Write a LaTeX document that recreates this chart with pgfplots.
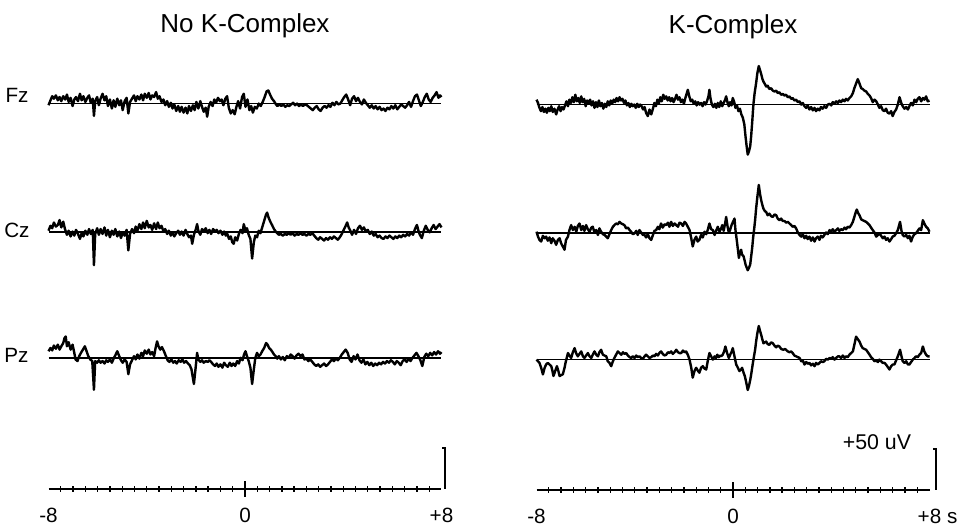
\documentclass[border=0pt]{standalone}
\usepackage{fontspec}
\setmainfont{Liberation Sans}
\usepackage{pgfplots}
\usepackage{pgfplotstable}
\pgfplotsset{compat=1.18}

% traces: time (s), amplitude (uV) relative to each channel's baseline
\pgfplotstableread[row sep=\\]{t v\\
-8.00 -2\\ -7.92 4\\ -7.85 9\\ -7.78 6\\ -7.70 10\\ -7.62 4\\ -7.55 8\\ -7.48 3\\ -7.40 9\\ -7.32 5\\
-7.25 11\\ -7.18 2\\ -7.10 7\\ -7.02 -3\\ -6.95 5\\ -6.88 8\\ -6.80 3\\ -6.72 12\\ -6.65 4\\ -6.58 9\\
-6.50 2\\ -6.42 7\\ -6.35 10\\ -6.28 1\\ -6.20 6\\ -6.15 -15\\ -6.10 3\\ -6.02 8\\ -5.95 -2\\ -5.88 6\\
-5.80 12\\ -5.72 4\\ -5.65 9\\ -5.58 -3\\ -5.50 5\\ -5.42 -6\\ -5.35 4\\ -5.28 -4\\ -5.20 6\\ -5.12 -2\\
-5.05 4\\ -4.98 -8\\ -4.90 3\\ -4.82 7\\ -4.75 -12\\ -4.68 2\\ -4.60 6\\ -4.52 10\\ -4.45 3\\ -4.38 9\\
-4.30 5\\ -4.22 11\\ -4.15 4\\ -4.08 12\\ -4.00 7\\ -3.92 13\\ -3.85 5\\ -3.78 10\\ -3.70 8\\ -3.62 14\\
-3.55 6\\ -3.48 9\\ -3.40 2\\ -3.32 5\\ -3.25 -2\\ -3.17 3\\ -3.10 -4\\ -3.02 1\\ -2.95 -6\\ -2.88 -1\\
-2.80 -9\\ -2.72 -3\\ -2.65 -10\\ -2.58 -4\\ -2.50 -11\\ -2.42 -5\\ -2.35 -12\\ -2.28 -3\\ -2.20 -9\\ -2.12 -2\\
-2.05 -8\\ -1.98 2\\ -1.90 -6\\ -1.82 3\\ -1.75 -4\\ -1.68 -10\\ -1.60 -5\\ -1.54 -16\\ -1.48 -4\\ -1.40 2\\
-1.32 -3\\ -1.25 5\\ -1.18 1\\ -1.10 7\\ -1.02 3\\ -0.95 5\\ -0.88 -2\\ -0.80 6\\ -0.73 9\\ -0.66 -5\\
-0.58 -12\\ -0.50 -8\\ -0.42 -13\\ -0.35 -4\\ -0.28 3\\ -0.20 -6\\ -0.12 8\\ -0.05 12\\ 0.02 -4\\ 0.10 5\\
0.18 -8\\ 0.25 -3\\ 0.32 -11\\ 0.40 -4\\ 0.48 -6\\ 0.56 0\\ 0.64 -3\\ 0.72 2\\ 0.80 8\\ 0.88 15\\
0.95 16\\ 1.02 11\\ 1.10 6\\ 1.18 3\\ 1.26 -1\\ 1.32 -3\\ 1.40 -1\\ 1.48 -3\\ 1.56 -1\\ 1.64 -4\\
1.72 -2\\ 1.80 -3\\ 1.88 -1\\ 1.96 1\\ 2.04 -2\\ 2.12 0\\ 2.20 -3\\ 2.28 -1\\ 2.36 -3\\ 2.44 -1\\
2.52 -2\\ 2.60 -4\\ 2.68 -6\\ 2.76 -8\\ 2.84 -5\\ 2.92 -3\\ 3.00 -7\\ 3.08 -9\\ 3.16 -5\\ 3.24 -3\\
3.32 -5\\ 3.40 -2\\ 3.48 -4\\ 3.56 1\\ 3.64 -2\\ 3.72 2\\ 3.80 -1\\ 3.88 0\\ 3.96 4\\ 4.04 8\\
4.12 11\\ 4.20 5\\ 4.28 -2\\ 4.36 6\\ 4.44 9\\ 4.52 3\\ 4.60 7\\ 4.68 2\\ 4.76 -1\\ 4.84 5\\
4.92 1\\ 5.00 -2\\ 5.08 -5\\ 5.16 -2\\ 5.24 -6\\ 5.32 -3\\ 5.40 -7\\ 5.48 -4\\ 5.56 -8\\ 5.64 -6\\
5.72 -9\\ 5.80 -5\\ 5.88 -7\\ 5.96 -3\\ 6.04 -6\\ 6.12 -2\\ 6.20 -7\\ 6.28 -4\\ 6.36 -1\\ 6.44 -3\\
6.52 -5\\ 6.60 -2\\ 6.68 2\\ 6.76 -4\\ 6.84 3\\ 6.92 9\\ 7.00 11\\ 7.08 4\\ 7.16 -3\\ 7.24 2\\
7.32 8\\ 7.40 12\\ 7.48 5\\ 7.56 2\\ 7.64 7\\ 7.72 10\\ 7.80 14\\ 7.88 7\\ 7.94 10\\ 8.00 8\\
}\fzL

\pgfplotstableread[row sep=\\]{t v\\
-8.00 2\\ -7.92 8\\ -7.85 5\\ -7.78 12\\ -7.70 7\\ -7.62 9\\ -7.55 15\\ -7.48 6\\ -7.40 13\\ -7.33 4\\
-7.25 -3\\ -7.18 2\\ -7.10 -5\\ -7.02 1\\ -6.95 -4\\ -6.88 3\\ -6.80 -2\\ -6.72 -8\\ -6.65 -1\\ -6.58 -5\\
-6.50 2\\ -6.42 -3\\ -6.35 4\\ -6.28 -2\\ -6.20 3\\ -6.15 -40\\ -6.10 -2\\ -6.02 5\\ -5.95 -3\\ -5.88 4\\
-5.80 -2\\ -5.72 6\\ -5.65 -4\\ -5.58 3\\ -5.50 -6\\ -5.42 2\\ -5.35 -3\\ -5.28 4\\ -5.20 -5\\ -5.12 1\\
-5.05 -7\\ -4.98 0\\ -4.90 -4\\ -4.82 3\\ -4.75 -22\\ -4.68 -2\\ -4.60 4\\ -4.52 -1\\ -4.45 7\\ -4.38 2\\
-4.30 10\\ -4.22 4\\ -4.15 12\\ -4.08 5\\ -4.00 14\\ -3.92 6\\ -3.85 9\\ -3.78 3\\ -3.70 11\\ -3.62 4\\
-3.55 12\\ -3.48 5\\ -3.40 8\\ -3.32 1\\ -3.25 4\\ -3.17 -2\\ -3.10 2\\ -3.02 -4\\ -2.95 0\\ -2.88 -5\\
-2.80 -1\\ -2.72 2\\ -2.65 -3\\ -2.58 1\\ -2.50 -4\\ -2.42 3\\ -2.35 -2\\ -2.28 -6\\ -2.20 -4\\ -2.15 -14\\
-2.08 -3\\ -2.00 4\\ -1.95 10\\ -1.90 2\\ -1.82 -3\\ -1.75 4\\ -1.68 1\\ -1.60 5\\ -1.52 -1\\ -1.45 3\\
-1.38 -2\\ -1.30 4\\ -1.22 1\\ -1.15 3\\ -1.08 -1\\ -1.00 2\\ -0.92 -3\\ -0.85 1\\ -0.78 -4\\ -0.72 -2\\
-0.65 -8\\ -0.58 -5\\ -0.52 -12\\ -0.46 -14\\ -0.40 -6\\ -0.32 -10\\ -0.25 -2\\ -0.18 3\\ -0.10 -1\\ -0.05 10\\
0.02 2\\ 0.08 5\\ 0.15 -3\\ 0.22 -8\\ 0.29 -32\\ 0.36 -12\\ 0.42 -4\\ 0.49 -6\\ 0.56 2\\ 0.63 -1\\
0.70 6\\ 0.78 14\\ 0.85 21\\ 0.90 24\\ 0.96 18\\ 1.03 13\\ 1.10 9\\ 1.18 4\\ 1.25 1\\ 1.31 -1\\
1.38 -3\\ 1.46 -2\\ 1.54 -4\\ 1.62 -2\\ 1.70 -3\\ 1.78 -1\\ 1.86 -3\\ 1.94 -1\\ 2.02 -4\\ 2.10 -2\\
2.18 -3\\ 2.26 -1\\ 2.34 -3\\ 2.42 -2\\ 2.50 -4\\ 2.58 -2\\ 2.66 -3\\ 2.74 -1\\ 2.82 -4\\ 2.90 -7\\
2.98 -9\\ 3.06 -6\\ 3.14 -8\\ 3.22 -10\\ 3.30 -7\\ 3.38 -9\\ 3.46 -6\\ 3.54 -8\\ 3.62 -5\\ 3.70 -7\\
3.78 -9\\ 3.86 -6\\ 3.94 -2\\ 4.02 3\\ 4.10 8\\ 4.16 12\\ 4.22 6\\ 4.29 2\\ 4.36 -3\\ 4.44 3\\
4.52 -2\\ 4.60 5\\ 4.68 8\\ 4.76 3\\ 4.84 6\\ 4.92 1\\ 5.00 3\\ 5.08 -2\\ 5.16 1\\ 5.24 -4\\
5.32 -2\\ 5.40 -6\\ 5.48 -4\\ 5.56 -7\\ 5.64 -8\\ 5.72 -5\\ 5.80 -7\\ 5.88 -4\\ 5.96 -6\\ 6.04 -8\\
6.12 -5\\ 6.20 -7\\ 6.28 -4\\ 6.36 -6\\ 6.44 -3\\ 6.52 -5\\ 6.60 -2\\ 6.68 -4\\ 6.76 0\\ 6.84 -3\\
6.92 4\\ 7.00 9\\ 7.06 2\\ 7.12 -3\\ 7.20 -7\\ 7.28 2\\ 7.36 8\\ 7.44 3\\ 7.52 0\\ 7.60 5\\
7.68 9\\ 7.76 4\\ 7.84 7\\ 7.92 10\\ 8.00 6\\
}\czL

\pgfplotstableread[row sep=\\]{t v\\
-8.00 8\\ -7.92 12\\ -7.85 9\\ -7.78 15\\ -7.70 11\\ -7.62 16\\ -7.55 10\\ -7.48 14\\ -7.40 18\\ -7.35 24\\
-7.30 26\\ -7.25 14\\ -7.18 19\\ -7.10 10\\ -7.02 16\\ -6.95 6\\ -6.90 -2\\ -6.82 -4\\ -6.75 2\\ -6.68 6\\
-6.60 10\\ -6.52 14\\ -6.45 8\\ -6.38 2\\ -6.30 -2\\ -6.22 -4\\ -6.15 -39\\ -6.10 -4\\ -6.02 -6\\ -5.95 -3\\
-5.88 -6\\ -5.80 -4\\ -5.72 -7\\ -5.65 -3\\ -5.58 -5\\ -5.50 -2\\ -5.42 -6\\ -5.35 -1\\ -5.28 3\\ -5.20 8\\
-5.12 2\\ -5.05 -3\\ -4.98 -6\\ -4.90 -2\\ -4.82 -5\\ -4.75 -20\\ -4.68 -8\\ -4.60 -3\\ -4.52 2\\ -4.45 -2\\
-4.38 4\\ -4.30 -1\\ -4.22 6\\ -4.15 2\\ -4.08 9\\ -4.00 5\\ -3.92 10\\ -3.85 4\\ -3.78 7\\ -3.70 2\\
-3.64 12\\ -3.58 20\\ -3.52 14\\ -3.45 10\\ -3.38 13\\ -3.30 8\\ -3.22 2\\ -3.15 -3\\ -3.08 -5\\ -3.00 -2\\
-2.92 -6\\ -2.85 -4\\ -2.78 -7\\ -2.70 -3\\ -2.62 -5\\ -2.55 -2\\ -2.48 -6\\ -2.40 -4\\ -2.32 -7\\ -2.25 -9\\
-2.18 -14\\ -2.12 -25\\ -2.08 -32\\ -2.02 -15\\ -1.95 6\\ -1.90 -2\\ -1.82 -5\\ -1.75 -3\\ -1.68 -6\\ -1.60 -4\\
-1.52 -5\\ -1.45 -3\\ -1.38 -5\\ -1.30 -8\\ -1.22 -10\\ -1.15 -7\\ -1.08 -11\\ -1.00 -8\\ -0.92 -12\\ -0.85 -6\\
-0.78 -9\\ -0.70 -11\\ -0.62 -6\\ -0.55 -10\\ -0.48 -7\\ -0.40 -10\\ -0.32 -4\\ -0.25 -7\\ -0.18 0\\ -0.10 -3\\
-0.04 4\\ 0.02 8\\ 0.08 2\\ 0.15 -4\\ 0.22 -12\\ 0.29 -32\\ 0.36 -14\\ 0.42 0\\ 0.49 6\\ 0.56 2\\
0.63 4\\ 0.70 8\\ 0.78 12\\ 0.86 18\\ 0.92 16\\ 0.98 12\\ 1.05 10\\ 1.12 7\\ 1.18 4\\ 1.25 2\\
1.31 -1\\ 1.38 2\\ 1.46 -2\\ 1.54 1\\ 1.62 -3\\ 1.70 2\\ 1.78 0\\ 1.86 4\\ 1.94 2\\ 2.02 -1\\
2.10 3\\ 2.18 5\\ 2.26 2\\ 2.34 4\\ 2.42 -2\\ 2.50 -1\\ 2.58 -4\\ 2.66 -2\\ 2.74 -5\\ 2.82 -8\\
2.90 -10\\ 2.98 -8\\ 3.06 -11\\ 3.14 -9\\ 3.22 -7\\ 3.30 -10\\ 3.38 -8\\ 3.46 -5\\ 3.54 -2\\ 3.62 -4\\
3.70 -1\\ 3.78 -3\\ 3.86 0\\ 3.94 4\\ 4.02 7\\ 4.10 10\\ 4.18 6\\ 4.26 -2\\ 4.34 -5\\ 4.42 2\\
4.50 -2\\ 4.58 4\\ 4.66 -3\\ 4.74 -6\\ 4.82 -2\\ 4.90 -8\\ 4.98 -5\\ 5.06 -9\\ 5.14 -6\\ 5.22 -10\\
5.30 -7\\ 5.38 -9\\ 5.46 -6\\ 5.54 -8\\ 5.62 -5\\ 5.70 -7\\ 5.78 -4\\ 5.86 -6\\ 5.94 -3\\ 6.02 -5\\
6.10 -8\\ 6.18 -4\\ 6.26 -6\\ 6.34 -9\\ 6.42 -4\\ 6.50 -2\\ 6.58 -5\\ 6.66 -1\\ 6.74 -4\\ 6.82 0\\
6.90 3\\ 6.98 6\\ 7.06 2\\ 7.14 -3\\ 7.22 -10\\ 7.30 1\\ 7.38 5\\ 7.46 2\\ 7.54 6\\ 7.62 3\\
7.70 7\\ 7.78 4\\ 7.86 8\\ 7.94 5\\ 8.00 7\\
}\pzL

\pgfplotstableread[row sep=\\]{t v\\
-8.00 6\\ -7.94 2\\ -7.88 -4\\ -7.82 -8\\ -7.76 -3\\ -7.70 -9\\ -7.64 -5\\ -7.58 -10\\ -7.52 -4\\ -7.46 -8\\
-7.40 -2\\ -7.34 -9\\ -7.27 -5\\ -7.20 -12\\ -7.14 -6\\ -7.08 -2\\ -7.02 -8\\ -6.96 -3\\ -6.90 -6\\ -6.84 -1\\
-6.78 4\\ -6.72 -2\\ -6.66 6\\ -6.60 2\\ -6.54 9\\ -6.48 3\\ -6.42 12\\ -6.36 4\\ -6.30 8\\ -6.24 2\\
-6.18 10\\ -6.12 3\\ -6.06 7\\ -6.00 -2\\ -5.94 5\\ -5.88 1\\ -5.82 6\\ -5.76 -1\\ -5.70 4\\ -5.64 -4\\
-5.58 3\\ -5.52 -3\\ -5.46 5\\ -5.40 -2\\ -5.34 2\\ -5.28 -5\\ -5.22 1\\ -5.16 -3\\ -5.10 4\\ -5.04 -1\\
-4.98 5\\ -4.92 1\\ -4.86 6\\ -4.80 3\\ -4.74 8\\ -4.68 4\\ -4.62 9\\ -4.56 5\\ -4.50 7\\ -4.44 2\\
-4.38 5\\ -4.32 -1\\ -4.26 2\\ -4.20 -3\\ -4.14 1\\ -4.08 -2\\ -4.02 0\\ -3.96 -4\\ -3.90 1\\ -3.84 -3\\
-3.78 0\\ -3.72 -2\\ -3.66 -6\\ -3.60 -3\\ -3.54 -10\\ -3.47 -14\\ -3.40 -6\\ -3.33 -12\\ -3.26 -5\\ -3.20 2\\
-3.14 -2\\ -3.08 6\\ -3.02 1\\ -2.96 9\\ -2.90 4\\ -2.84 12\\ -2.78 7\\ -2.72 10\\ -2.66 5\\ -2.60 9\\
-2.54 4\\ -2.48 8\\ -2.42 3\\ -2.36 7\\ -2.30 12\\ -2.24 6\\ -2.18 9\\ -2.12 3\\ -2.06 6\\ -2.00 1\\
-1.94 8\\ -1.88 14\\ -1.84 18\\ -1.78 10\\ -1.72 4\\ -1.66 6\\ -1.60 1\\ -1.54 4\\ -1.48 -1\\ -1.42 3\\
-1.36 0\\ -1.30 2\\ -1.24 -2\\ -1.18 3\\ -1.12 0\\ -1.06 4\\ -1.00 10\\ -0.96 18\\ -0.92 8\\ -0.86 0\\
-0.80 -3\\ -0.74 1\\ -0.68 -4\\ -0.62 2\\ -0.56 -3\\ -0.50 4\\ -0.44 -2\\ -0.38 2\\ -0.32 6\\ -0.28 10\\
-0.22 2\\ -0.17 -2\\ -0.12 3\\ -0.06 -1\\ -0.01 8\\ 0.05 3\\ 0.10 -4\\ 0.16 -1\\ 0.22 -8\\ 0.28 -5\\
0.34 -12\\ 0.40 -16\\ 0.46 -24\\ 0.51 -39\\ 0.56 -52\\ 0.60 -61\\ 0.65 -57\\ 0.70 -51\\ 0.74 -38\\ 0.78 -22\\
0.83 0\\ 0.88 14\\ 0.94 26\\ 0.99 38\\ 1.05 47\\ 1.10 42\\ 1.15 37\\ 1.20 31\\ 1.24 28\\ 1.30 25\\
1.35 22\\ 1.41 23\\ 1.48 19\\ 1.55 20\\ 1.62 17\\ 1.69 16\\ 1.76 17\\ 1.82 14\\ 1.89 15\\ 1.96 12\\
2.03 13\\ 2.09 11\\ 2.16 12\\ 2.23 9\\ 2.30 10\\ 2.37 7\\ 2.43 8\\ 2.50 5\\ 2.57 6\\ 2.64 3\\
2.71 4\\ 2.78 0\\ 2.84 2\\ 2.91 -2\\ 2.98 -4\\ 3.04 -1\\ 3.11 -6\\ 3.18 -3\\ 3.25 -7\\ 3.32 -4\\
3.38 -8\\ 3.45 -5\\ 3.52 -7\\ 3.58 -3\\ 3.65 -5\\ 3.72 -2\\ 3.79 -4\\ 3.86 0\\ 3.93 1\\ 4.00 -1\\
4.06 3\\ 4.13 1\\ 4.20 4\\ 4.27 2\\ 4.33 5\\ 4.40 3\\ 4.47 6\\ 4.54 4\\ 4.60 7\\ 4.67 5\\
4.74 8\\ 4.81 10\\ 4.88 14\\ 4.94 20\\ 4.99 24\\ 5.04 28\\ 5.08 31\\ 5.12 28\\ 5.17 24\\ 5.22 20\\
5.28 19\\ 5.35 17\\ 5.42 16\\ 5.49 13\\ 5.56 11\\ 5.62 8\\ 5.69 3\\ 5.76 6\\ 5.83 4\\ 5.90 0\\
5.96 -4\\ 6.03 -2\\ 6.10 -7\\ 6.17 -8\\ 6.23 -5\\ 6.30 -10\\ 6.37 -11\\ 6.44 -8\\ 6.50 -14\\ 6.57 -9\\
6.64 -6\\ 6.71 0\\ 6.78 9\\ 6.85 2\\ 6.91 -2\\ 6.98 -5\\ 7.05 -3\\ 7.12 -6\\ 7.18 -2\\ 7.25 2\\
7.32 -1\\ 7.39 6\\ 7.46 3\\ 7.52 7\\ 7.59 9\\ 7.66 4\\ 7.73 8\\ 7.79 6\\ 7.86 10\\ 7.93 4\\
8.00 5\\
}\fzR

\pgfplotstableread[row sep=\\]{t v\\
-8.00 2\\ -7.94 -4\\ -7.88 -8\\ -7.81 -10\\ -7.74 -3\\ -7.67 -6\\ -7.61 -4\\ -7.54 -9\\ -7.47 -5\\ -7.40 -12\\
-7.34 -6\\ -7.27 -9\\ -7.20 -14\\ -7.13 -8\\ -7.06 -6\\ -7.00 -12\\ -6.93 -16\\ -6.86 -20\\ -6.80 -8\\ -6.72 -4\\
-6.66 4\\ -6.59 10\\ -6.52 4\\ -6.45 8\\ -6.38 2\\ -6.32 9\\ -6.25 12\\ -6.18 4\\ -6.11 9\\ -6.05 3\\
-5.98 10\\ -5.91 5\\ -5.84 2\\ -5.77 7\\ -5.71 8\\ -5.64 1\\ -5.57 4\\ -5.50 -2\\ -5.44 6\\ -5.37 2\\
-5.30 -1\\ -5.23 -2\\ -5.16 -4\\ -5.10 -6\\ -5.03 -1\\ -4.96 4\\ -4.89 8\\ -4.83 10\\ -4.76 12\\ -4.69 11\\
-4.62 14\\ -4.55 12\\ -4.48 11\\ -4.42 10\\ -4.35 6\\ -4.28 7\\ -4.21 4\\ -4.15 2\\ -4.08 -1\\ -4.01 0\\
-3.94 3\\ -3.88 -2\\ -3.81 4\\ -3.74 1\\ -3.67 -2\\ -3.60 -2\\ -3.54 -5\\ -3.47 -1\\ -3.40 -6\\ -3.33 -8\\
-3.26 -2\\ -3.20 3\\ -3.13 4\\ -3.06 8\\ -3.00 5\\ -2.93 12\\ -2.86 7\\ -2.79 11\\ -2.72 10\\ -2.65 13\\
-2.59 8\\ -2.52 14\\ -2.45 9\\ -2.38 12\\ -2.31 10\\ -2.24 8\\ -2.18 13\\ -2.11 12\\ -2.04 9\\ -1.97 14\\
-1.91 12\\ -1.84 8\\ -1.77 4\\ -1.70 -6\\ -1.64 -16\\ -1.57 -8\\ -1.50 -4\\ -1.44 -10\\ -1.37 -8\\ -1.30 -2\\
-1.23 -5\\ -1.16 2\\ -1.09 -1\\ -1.03 4\\ -0.96 12\\ -0.89 5\\ -0.82 4\\ -0.75 -2\\ -0.69 3\\ -0.62 8\\
-0.55 2\\ -0.48 6\\ -0.44 10\\ -0.38 3\\ -0.31 14\\ -0.28 20\\ -0.22 8\\ -0.17 1\\ -0.12 4\\ -0.06 10\\
0.00 14\\ 0.06 18\\ 0.10 4\\ 0.16 -10\\ 0.20 -20\\ 0.24 -30\\ 0.28 -24\\ 0.33 -20\\ 0.37 -26\\ 0.43 -28\\
0.48 -34\\ 0.51 -38\\ 0.56 -42\\ 0.60 -45\\ 0.65 -42\\ 0.70 -38\\ 0.74 -28\\ 0.78 -18\\ 0.82 -5\\ 0.86 5\\
0.90 16\\ 0.94 30\\ 0.99 44\\ 1.05 59\\ 1.10 48\\ 1.15 40\\ 1.20 34\\ 1.24 30\\ 1.30 27\\ 1.35 26\\
1.41 22\\ 1.48 24\\ 1.55 21\\ 1.62 20\\ 1.69 23\\ 1.76 22\\ 1.82 18\\ 1.89 16\\ 1.96 18\\ 2.03 15\\
2.10 15\\ 2.16 13\\ 2.23 14\\ 2.30 12\\ 2.37 10\\ 2.43 8\\ 2.50 9\\ 2.57 6\\ 2.64 1\\ 2.71 -2\\
2.78 -4\\ 2.84 -1\\ 2.91 -6\\ 2.98 -3\\ 3.04 -7\\ 3.11 -4\\ 3.18 -9\\ 3.25 -5\\ 3.32 -10\\ 3.38 -6\\
3.45 -4\\ 3.52 -8\\ 3.58 -3\\ 3.65 -5\\ 3.72 -2\\ 3.79 1\\ 3.86 -1\\ 3.93 4\\ 4.00 2\\ 4.06 5\\
4.13 2\\ 4.20 4\\ 4.27 6\\ 4.33 3\\ 4.40 5\\ 4.47 4\\ 4.54 7\\ 4.60 5\\ 4.67 8\\ 4.74 7\\
4.81 10\\ 4.88 14\\ 4.94 20\\ 5.00 26\\ 5.04 29\\ 5.09 25\\ 5.15 22\\ 5.22 17\\ 5.28 16\\ 5.35 15\\
5.42 14\\ 5.49 12\\ 5.56 10\\ 5.62 7\\ 5.69 4\\ 5.76 1\\ 5.83 -4\\ 5.90 -2\\ 5.96 0\\ 6.03 -3\\
6.10 -6\\ 6.17 -4\\ 6.23 -8\\ 6.30 -6\\ 6.37 -10\\ 6.44 -7\\ 6.50 -4\\ 6.57 -3\\ 6.64 0\\ 6.71 4\\
6.80 14\\ 6.86 3\\ 6.91 -2\\ 6.98 -4\\ 7.05 -2\\ 7.12 -6\\ 7.18 -3\\ 7.25 -10\\ 7.32 -4\\ 7.39 -1\\
7.45 0\\ 7.52 3\\ 7.59 6\\ 7.66 4\\ 7.73 16\\ 7.79 12\\ 7.86 8\\ 7.93 6\\ 8.00 2\\
}\czR

\pgfplotstableread[row sep=\\]{t v\\
-8.00 0\\ -7.94 -2\\ -7.88 -4\\ -7.81 -10\\ -7.74 -18\\ -7.67 -10\\ -7.61 -6\\ -7.54 -4\\ -7.47 -6\\ -7.40 -8\\
-7.35 -14\\ -7.31 -20\\ -7.24 -14\\ -7.17 -8\\ -7.11 -14\\ -7.06 -20\\ -7.00 -19\\ -6.93 -18\\ -6.86 -10\\ -6.82 -4\\
-6.77 2\\ -6.72 8\\ -6.66 5\\ -6.59 2\\ -6.52 9\\ -6.45 14\\ -6.39 8\\ -6.32 4\\ -6.25 7\\ -6.18 10\\
-6.11 4\\ -6.05 2\\ -5.98 5\\ -5.91 8\\ -5.84 4\\ -5.77 2\\ -5.71 6\\ -5.64 10\\ -5.57 6\\ -5.50 4\\
-5.44 9\\ -5.37 12\\ -5.30 6\\ -5.23 5\\ -5.16 4\\ -5.10 -2\\ -5.03 -4\\ -4.96 -8\\ -4.89 -2\\ -4.83 2\\
-4.76 6\\ -4.69 10\\ -4.62 8\\ -4.55 6\\ -4.48 9\\ -4.42 7\\ -4.35 8\\ -4.28 5\\ -4.21 3\\ -4.15 2\\
-4.08 4\\ -4.01 2\\ -3.94 5\\ -3.88 3\\ -3.81 4\\ -3.74 2\\ -3.67 1\\ -3.60 4\\ -3.54 6\\ -3.47 4\\
-3.40 2\\ -3.33 3\\ -3.26 5\\ -3.20 4\\ -3.13 7\\ -3.06 5\\ -3.00 8\\ -2.93 10\\ -2.86 7\\ -2.79 5\\
-2.72 6\\ -2.65 9\\ -2.59 8\\ -2.52 10\\ -2.45 7\\ -2.38 9\\ -2.31 12\\ -2.24 9\\ -2.18 8\\ -2.11 8\\
-2.04 11\\ -1.97 9\\ -1.91 10\\ -1.84 6\\ -1.77 0\\ -1.70 -10\\ -1.64 -22\\ -1.57 -14\\ -1.50 -10\\ -1.44 -13\\
-1.37 -16\\ -1.30 -10\\ -1.23 -8\\ -1.16 -11\\ -1.09 -12\\ -1.03 -2\\ -0.96 8\\ -0.89 4\\ -0.82 0\\ -0.75 4\\
-0.69 2\\ -0.64 6\\ -0.58 3\\ -0.52 5\\ -0.48 4\\ -0.42 6\\ -0.36 10\\ -0.31 16\\ -0.24 8\\ -0.17 2\\
-0.10 7\\ -0.05 10\\ -0.01 14\\ 0.06 4\\ 0.13 -6\\ 0.20 -10\\ 0.26 -14\\ 0.33 -12\\ 0.37 -10\\ 0.43 -16\\
0.48 -20\\ 0.54 -28\\ 0.60 -37\\ 0.65 -32\\ 0.70 -25\\ 0.74 -18\\ 0.78 -10\\ 0.82 -2\\ 0.86 5\\ 0.90 12\\
0.94 22\\ 0.99 32\\ 1.05 41\\ 1.10 35\\ 1.15 30\\ 1.20 24\\ 1.24 20\\ 1.30 21\\ 1.35 22\\ 1.41 19\\
1.48 18\\ 1.55 21\\ 1.62 20\\ 1.69 17\\ 1.76 15\\ 1.82 17\\ 1.89 16\\ 1.96 13\\ 2.05 12\\ 2.12 13\\
2.23 10\\ 2.30 9\\ 2.37 10\\ 2.43 8\\ 2.50 5\\ 2.57 4\\ 2.64 3\\ 2.71 2\\ 2.78 -2\\ 2.84 -1\\
2.91 -6\\ 2.98 -3\\ 3.04 -5\\ 3.11 -4\\ 3.18 -7\\ 3.25 -5\\ 3.32 -8\\ 3.38 -4\\ 3.45 -6\\ 3.52 -4\\
3.58 -2\\ 3.65 -3\\ 3.72 -2\\ 3.79 1\\ 3.86 0\\ 3.93 2\\ 4.00 1\\ 4.06 3\\ 4.13 0\\ 4.20 2\\
4.27 4\\ 4.33 4\\ 4.40 2\\ 4.47 5\\ 4.54 2\\ 4.60 4\\ 4.67 3\\ 4.74 6\\ 4.81 8\\ 4.88 10\\
4.94 18\\ 5.01 28\\ 5.08 25\\ 5.15 22\\ 5.22 17\\ 5.28 14\\ 5.35 13\\ 5.42 12\\ 5.49 9\\ 5.56 6\\
5.62 3\\ 5.69 1\\ 5.76 -2\\ 5.83 -1\\ 5.90 -3\\ 5.96 0\\ 6.03 -2\\ 6.10 -4\\ 6.17 -4\\ 6.23 -6\\
6.30 -9\\ 6.37 -12\\ 6.44 -8\\ 6.50 -6\\ 6.57 -6\\ 6.64 -1\\ 6.71 4\\ 6.80 12\\ 6.86 4\\ 6.91 -2\\
6.98 -4\\ 7.05 -2\\ 7.12 -6\\ 7.18 -6\\ 7.25 -3\\ 7.32 0\\ 7.39 2\\ 7.45 4\\ 7.52 3\\ 7.59 6\\
7.66 8\\ 7.73 16\\ 7.79 10\\ 7.86 6\\ 7.93 4\\ 8.00 4\\
}\pzR

\pgfplotsset{
  eeg/.style={
    x=18.42pt, y=0.615pt,
    xmin=-8, xmax=8, ymin=0, ymax=560,
    anchor=origin, clip=false,
    axis x line=bottom, axis y line=none,
    x axis line style={-, line width=1.4pt},
    xtick={-8,0,8},
    major tick length=0pt,
    minor xtick={-7.5,-7,...,7.5},
    minor tick length=4.5pt,
    tick align=center,
    every tick/.style={black, line width=1pt},
    extra x ticks={0}, extra x tick labels={},
    extra x tick style={major tick length=11.5pt, every tick/.style={black, line width=1.4pt}},
    xticklabel style={font=\fontsize{15.5}{16}\selectfont, anchor=base, yshift=-25pt},
  },
  trace/.style={black, line width=1.8pt, line join=round, mark=none},
  base/.style={black, line width=1.3pt, mark=none},
}

\begin{document}
\begin{tikzpicture}
\path[use as bounding box] (0,0) rectangle (721.5pt,397.5pt);

% left panel: no K-complex
\begin{axis}[eeg, at={(183.75pt,30.75pt)}, xticklabels={-8,0,+8}]
\addplot[base] coordinates {(-8,470) (8,470)};
\addplot[base] coordinates {(-8,313) (8,313)};
\addplot[base] coordinates {(-8,160) (8,160)};
\addplot[trace] table[x=t, y expr=\thisrow{v}+470] {\fzL};
\addplot[trace] table[x=t, y expr=\thisrow{v}+313] {\czL};
\addplot[trace] table[x=t, y expr=\thisrow{v}+160] {\pzL};
\addplot[black, line width=1.4pt, mark=none] coordinates {(8.04,50) (8.16,50) (8.16,0)};
\node[anchor=base, font=\fontsize{19.5}{22}\selectfont] at (axis cs:0,557) {No K-Complex};
\node[anchor=base east, font=\fontsize{15.5}{18}\selectfont] at (axis cs:-8.62,471) {Fz};
\node[anchor=base east, font=\fontsize{15.5}{18}\selectfont] at (axis cs:-8.58,307) {Cz};
\node[anchor=base east, font=\fontsize{15.5}{18}\selectfont] at (axis cs:-8.62,154) {Pz};
\end{axis}

% right panel: K-complex
\begin{axis}[eeg, at={(549.75pt,30pt)}, xticklabels={-8,0,+8\rlap{ s}}]
\addplot[base] coordinates {(-8,470) (8,470)};
\addplot[base] coordinates {(-8,313) (8,313)};
\addplot[base] coordinates {(-8,159) (8,159)};
\addplot[trace] table[x=t, y expr=\thisrow{v}+470] {\fzR};
\addplot[trace] table[x=t, y expr=\thisrow{v}+313] {\czR};
\addplot[trace] table[x=t, y expr=\thisrow{v}+159] {\pzR};
\addplot[black, line width=1.4pt, mark=none] coordinates {(8.16,50) (8.28,50) (8.28,0)};
\node[anchor=base, font=\fontsize{19.5}{22}\selectfont] at (axis cs:0,557) {K-Complex};
\node[anchor=base, font=\fontsize{16}{18}\selectfont] at (axis cs:5.86,49) {+50 uV};
\end{axis}
\end{tikzpicture}
\end{document}
